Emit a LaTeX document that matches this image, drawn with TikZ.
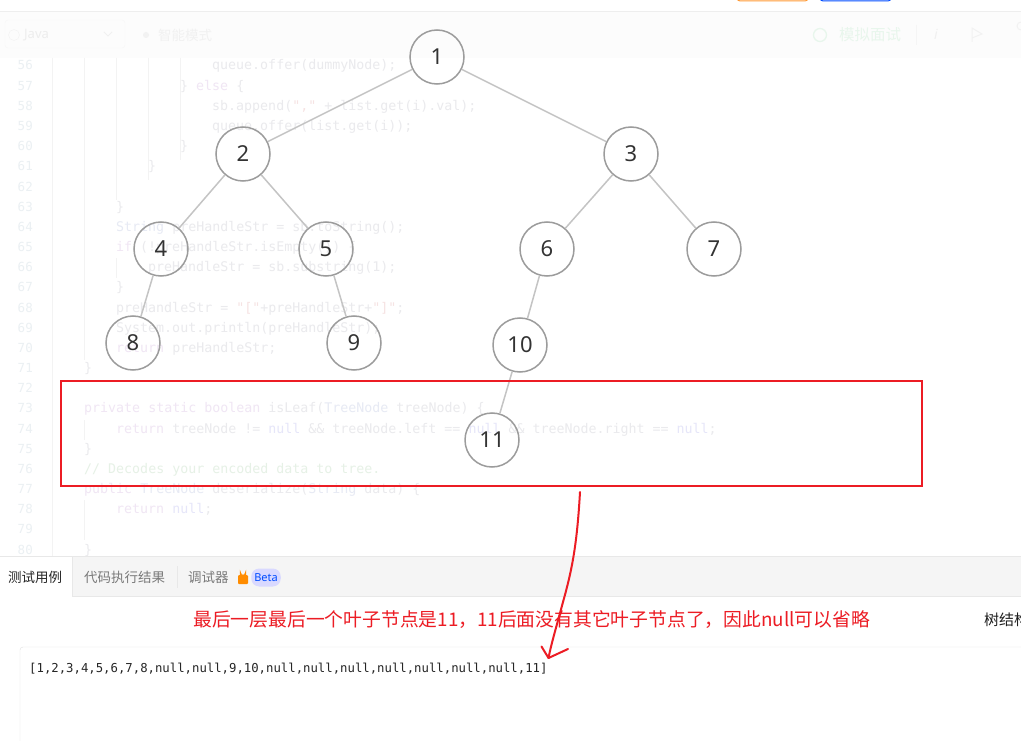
\documentclass[tikz,border=0pt]{standalone}
\usepackage{fontspec}
\setmainfont{Noto Sans}
\newfontfamily\codefont{DejaVu Sans Mono}
\newfontfamily\cjk{Noto Sans CJK SC}
\definecolor{plainc}{HTML}{EAEAED}
\definecolor{kwcol}{HTML}{F0E6F4}
\definecolor{nlcol}{HTML}{E6E6F9}
\definecolor{stcol}{HTML}{F6E3E3}
\definecolor{cmcol}{HTML}{E6F1E6}
\definecolor{tycol}{HTML}{E7EAF4}
\definecolor{lncol}{HTML}{EBF0F3}
\definecolor{guide}{HTML}{F3F3F3}
\definecolor{treeedge}{HTML}{C4C4C4}
\definecolor{treeline}{HTML}{9C9C9C}
\definecolor{markred}{HTML}{EC1C24}
\definecolor{tabbg}{HTML}{F5F5F5}
\definecolor{tabline}{HTML}{E8E8E8}
\definecolor{faint}{HTML}{EEEEEE}
\definecolor{faintgreen}{HTML}{E8F6EC}
\newcommand\kwc[1]{\textcolor{kwcol}{#1}}
\newcommand\nlc[1]{\textcolor{nlcol}{#1}}
\newcommand\stc[1]{\textcolor{stcol}{#1}}
\newcommand\cmc[1]{\textcolor{cmcol}{#1}}
\newcommand\tyc[1]{\textcolor{tycol}{#1}}
\newcommand\codeline[3]{\node[codeln] (L#1) at ({52+#2*8},{70+(#1-56)*20.17}) {#3};}
\tikzset{
  codeln/.style={anchor=base west, inner sep=0pt, text=plainc, font=\codefont\fontsize{13.3}{16}\selectfont},
  lnum/.style={anchor=base east, inner sep=0pt, text=lncol, font=\codefont\fontsize{12.5}{15}\selectfont},
  tnode/.style={circle, draw=treeline, line width=1.5pt, minimum size=54pt, inner sep=0pt, text=black!80, font=\fontsize{22}{26}\selectfont},
  edge/.style={draw=treeedge, line width=1.5pt},
  redmark/.style={draw=markred, line width=2pt, line cap=round, line join=round},
  tabtext/.style={anchor=west, inner sep=0pt, font=\cjk\fontsize{13.5}{16}\selectfont},
}
\begin{document}
\begin{tikzpicture}[x=1pt,y=-1pt]
\useasboundingbox (0,0) rectangle (1021,741);
\clip (0,0) rectangle (1021,741);
\fill[white] (0,0) rectangle (1021,741);
% top strip
\draw[draw=orange!80, line width=1pt, rounded corners=3pt] (737,-20) rectangle (808,1);
\draw[draw=blue!70!cyan, line width=1pt, rounded corners=3pt] (820,-20) rectangle (891,1);
\fill[black!1.2] (0,12) rectangle (1021,58);
\draw[faint] (0,11.5) -- (1021,11.5);
% faint toolbar
\draw[black!3.5, rounded corners=3pt] (5,20) rectangle (125,48);
\node[circle, draw=black!5, minimum size=11pt, inner sep=0pt] (infoi) at (14,35) {};
\node[anchor=west, inner sep=0pt, text=black!7, font=\fontsize{13}{15}\selectfont] (java) at (24,35) {Java};
\draw[black!6, line width=0.8pt] (104,32) -- (108,36) -- (112,32);
\fill[black!5] (146,35) circle (3);
\node[anchor=west, inner sep=0pt, text=black!5.5, font=\cjk\fontsize{13.5}{16}\selectfont] (mode) at (158,35) {智能模式};
\node[circle, draw=faintgreen, line width=1.3pt, minimum size=13pt, inner sep=0pt] (clock) at (820,35) {};
\node[anchor=west, inner sep=0pt, text=faintgreen, font=\cjk\fontsize{15.5}{18}\selectfont] (mock) at (839,35) {模拟面试};
\draw[black!4] (916,25) -- (916,45);
\node[inner sep=0pt, text=black!6, font=\itshape\fontsize{14}{16}\selectfont] (info) at (936,34) {i};
\draw[black!5, line width=1pt] (972,42) -- (972,28) -- (982,34) -- (972,38);
\draw[black!5, line width=1pt] (1021,30) arc (90:270:4);
% code gutter and indent guides
\draw[guide] (52,58) -- (52,556);
\draw[guide] (84,58) -- (84,360);
\draw[guide] (116,58) -- (116,200);
\draw[guide] (148,58) -- (148,180);
\draw[guide] (180,58) -- (180,160);
\draw[guide] (116,258) -- (116,278);
\draw[guide] (84,420) -- (84,440);
\draw[guide] (84,500) -- (84,540);
\foreach \n in {56,...,80} {
  \node[lnum] (N\n) at (33,{70+(\n-56)*20.17}) {\n};
}
\codeline{56}{20}{queue.offer(dummyNode);}
\codeline{57}{16}{\} \kwc{else} \{}
\codeline{58}{20}{sb.append(\stc{","} + list.get(i).val);}
\codeline{59}{20}{queue.offer(list.get(i));}
\codeline{60}{16}{\}}
\codeline{61}{12}{\}}
\codeline{63}{8}{\}}
\codeline{64}{8}{\tyc{String} preHandleStr = sb.toString();}
\codeline{65}{8}{\kwc{if} (!preHandleStr.isEmpty()) \{}
\codeline{66}{12}{preHandleStr = sb.substring(1);}
\codeline{67}{8}{\}}
\codeline{68}{8}{preHandleStr = \stc{"["}+preHandleStr+\stc{"]"};}
\codeline{69}{8}{System.out.println(preHandleStr);}
\codeline{70}{8}{\kwc{return} preHandleStr;}
\codeline{71}{4}{\}}
\codeline{73}{4}{\kwc{private} \kwc{static} \kwc{boolean} isLeaf(\tyc{TreeNode} treeNode) \{}
\codeline{74}{8}{\kwc{return} treeNode != \nlc{null} \&\& treeNode.left == \nlc{null} \&\& treeNode.right == \nlc{null};}
\codeline{75}{4}{\}}
\codeline{76}{4}{\cmc{// Decodes your encoded data to tree.}}
\codeline{77}{4}{\kwc{public} \tyc{TreeNode} deserialize(\tyc{String} data) \{}
\codeline{78}{8}{\kwc{return} \nlc{null};}
\codeline{80}{4}{\}}
% tree
\node[tnode] (n1) at (437,57) {1};
\node[tnode] (n2) at (243,154) {2};
\node[tnode] (n3) at (631,154) {3};
\node[tnode] (n4) at (161,249) {4};
\node[tnode] (n5) at (326,249) {5};
\node[tnode] (n6) at (547,249) {6};
\node[tnode] (n7) at (714,249) {7};
\node[tnode] (n8) at (133,343) {8};
\node[tnode] (n9) at (354,343) {9};
\node[tnode] (n10) at (520,345) {10};
\node[tnode] (n11) at (492,440) {11};
\draw[edge] (n1) -- (n2);
\draw[edge] (n1) -- (n3);
\draw[edge] (n2) -- (n4);
\draw[edge] (n2) -- (n5);
\draw[edge] (n3) -- (n6);
\draw[edge] (n3) -- (n7);
\draw[edge] (n4) -- (n8);
\draw[edge] (n5) -- (n9);
\draw[edge] (n6) -- (n10);
\draw[edge] (n10) -- (n11);
% red highlight box
\node[draw=markred, line width=2pt, inner sep=0pt, minimum width=861pt, minimum height=105pt] (box) at (491.5,433.5) {};
% bottom tab bar
\fill[tabbg] (0,556) rectangle (1021,596);
\draw[tabline] (0,556) -- (1021,556);
\draw[tabline] (0,596) -- (1021,596);
\fill[white] (0,556.5) rectangle (72,596.5);
\draw[tabline] (72,556) -- (72,596);
\node[tabtext, text=black!85] (t1) at (8,577) {测试用例};
\node[tabtext, text=black!52] (t2) at (84,577) {代码执行结果};
\draw[tabline] (177,566) -- (177,588);
\node[tabtext, text=black!52] (t3) at (188,577) {调试器};
\fill[orange!90!yellow, rounded corners=1pt] (238,575) rectangle (248,584);
\draw[orange!90!yellow, line width=1.3pt] (240.5,575) -- (240.5,573) arc (180:0:2.5) -- (245.5,575);
\node[fill=blue!15, text=blue!70!cyan, rounded corners=8pt, inner xsep=3pt, inner ysep=2pt, minimum height=18pt, font=\fontsize{11}{13}\selectfont] (beta) at (266,577.5) {Beta};
% annotation
\node[anchor=west, inner sep=0pt, text=markred, font=\cjk\fontsize{18.8}{22}\selectfont] (note) at (193,620) {最后一层最后一个叶子节点是11，11后面没有其它叶子节点了，因此null可以省略};
\node[anchor=west, inner sep=0pt, text=black!88, font=\cjk\fontsize{15}{18}\selectfont] (tree) at (984,620) {树结构};
% input box
\draw[draw=black!12, rounded corners=3pt] (20,780) -- (20,647) -- (1040,647);
\node[anchor=base west, inner sep=0pt, text=black!85, font=\codefont\fontsize{12.3}{15}\selectfont] (input) at (29,672) {[1,2,3,4,5,6,7,8,null,null,9,10,null,null,null,null,null,null,null,11]};
% hand-drawn arrow
\coordinate (a0) at (580,492);
\coordinate (tip) at (548.5,658);
\draw[redmark] (a0) .. controls (577,545) and (572,570) .. (563,602) .. controls (556,628) and (551,645) .. (tip);
\draw[redmark] (541.5,646.5) -- (tip) -- (568,649);
\end{tikzpicture}
\end{document}
